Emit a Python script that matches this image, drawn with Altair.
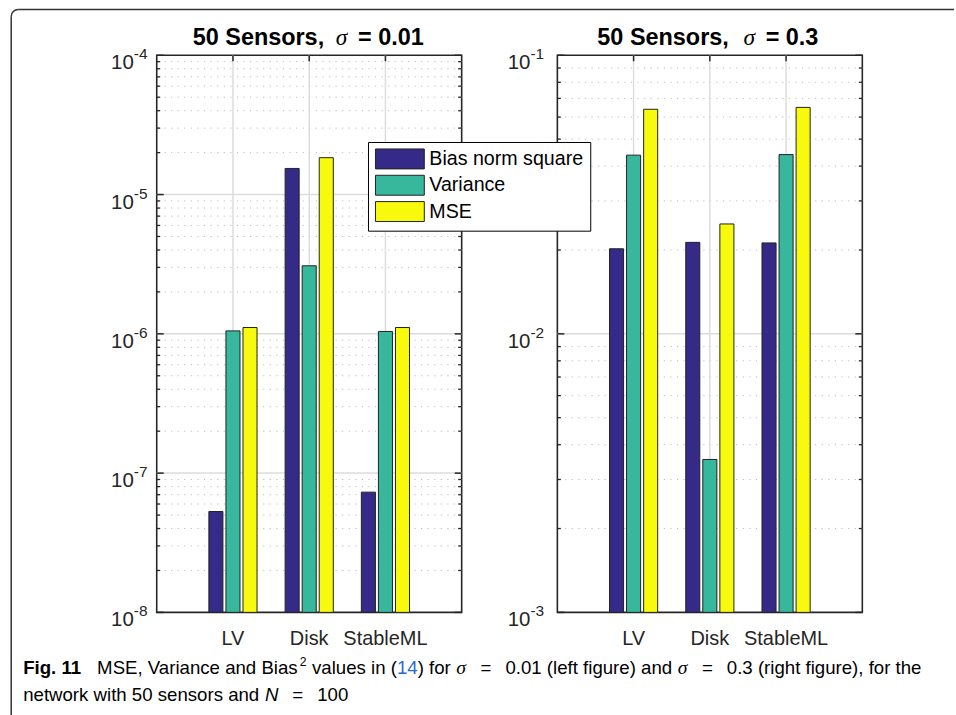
import math
import altair as alt
import pandas as pd

# ---- data -------------------------------------------------------------
categories = ["LV", "Disk", "StableML"]
series = ["Bias norm square", "Variance", "MSE"]
colors = ["#352a87", "#37b89d", "#f8fa0d"]

# sigma = 0.01
left_bias = [5.3e-8, 1.54e-5, 7.3e-8]
left_variance = [1.05e-6, 3.08e-6, 1.04e-6]
left_mse = [1.11e-6, 1.84e-5, 1.11e-6]

# sigma = 0.3
right_bias = [0.0202, 0.0213, 0.0212]
right_variance = [0.0438, 0.00354, 0.0440]
right_mse = [0.0640, 0.0248, 0.0650]

left_exponents = [-8, -7, -6, -5, -4]
right_exponents = [-3, -2, -1]

# ---- layout -----------------------------------------------------------
W, H = 306, 559
OX, OY = 156, 53          # where the left plot area starts on the page
AXIS = "#262626"
FONT = "Liberation Sans"
SERIF = "Liberation Serif"

# Arial / Liberation Sans advance widths (per 1000 em) for caption layout
ADV = {" ": 278, "(": 333, ")": 333, ",": 278, ".": 278, "=": 584, "-": 333}
ADV.update({d: 556 for d in "0123456789"})
ADV.update(dict(zip("ABCDEFGHIJKLMNOPQRSTUVWXYZ",
                    [667, 667, 722, 722, 667, 611, 778, 722, 278, 500, 667, 556, 833,
                     722, 778, 667, 778, 722, 667, 611, 722, 667, 944, 667, 667, 611])))
ADV.update(dict(zip("abcdefghijklmnopqrstuvwxyz",
                    [556, 556, 500, 556, 556, 278, 556, 556, 222, 222, 500, 222, 833,
                     556, 556, 556, 556, 333, 500, 278, 556, 500, 722, 500, 500, 500])))
ADV_BOLD = dict(ADV)
ADV_BOLD.update({"F": 611, "i": 278, "g": 611})


def text_width(s, size, bold=False):
    table = ADV_BOLD if bold else ADV
    return sum(table.get(ch, 550) for ch in s) * size / 1000.0


def long_table(bias, variance, mse):
    rows = []
    for s, vals in zip(series, [bias, variance, mse]):
        for c, v in zip(categories, vals):
            rows.append({"cat": c, "series": s, "value": v})
    return pd.DataFrame(rows)


def text_layer(s, x, y, size, weight="normal", style="normal", font=FONT,
               color="black", align="left"):
    return alt.Chart(pd.DataFrame({"t": [s]})).mark_text(
        align=align, baseline="alphabetic", fontSize=size, fontWeight=weight,
        fontStyle=style, font=font, color=color
    ).encode(x=alt.value(x), y=alt.value(y), text="t:N")


def panel(bias, variance, mse, exps, title_parts, label_x, legend):
    lo, hi = 10.0 ** exps[0], 10.0 ** exps[-1]
    yscale = alt.Scale(type="log", domain=[lo, hi], nice=False)
    xscale = alt.Scale(type="band", domain=categories, paddingInner=0, paddingOuter=0.5)

    minor = pd.DataFrame({"v": [m * 10.0 ** e for e in exps[:-1] for m in range(2, 10)]})
    major = pd.DataFrame({"v": [10.0 ** e for e in exps]})
    inner_major = pd.DataFrame({"v": [10.0 ** e for e in exps[1:-1]]})
    cats = pd.DataFrame({"cat": categories})
    labels = pd.DataFrame({"v": [10.0 ** e for e in exps],
                           "base": ["10"] * len(exps),
                           "exp": [str(e) for e in exps]})

    yq = alt.Y("v:Q", scale=yscale, axis=None)
    xc = alt.X("cat:N", scale=xscale, axis=None, bandPosition=0.5, sort=categories)

    minor_grid = alt.Chart(minor).mark_rule(
        color="#bdbdbd", strokeWidth=1, strokeDash=[1.2, 5.4]
    ).encode(y=yq)
    major_grid = alt.Chart(inner_major).mark_rule(
        color="#dcdcdc", strokeWidth=1.5
    ).encode(y=yq)
    x_grid = alt.Chart(cats).mark_rule(color="#dcdcdc", strokeWidth=1.5).encode(x=xc)

    tick_l_minor = alt.Chart(minor).mark_rule(color=AXIS, strokeWidth=1.3).encode(
        y=yq, x=alt.value(0), x2=alt.value(3.5))
    tick_r_minor = alt.Chart(minor).mark_rule(color=AXIS, strokeWidth=1.3).encode(
        y=yq, x=alt.value(W - 3.5), x2=alt.value(W))
    tick_l_major = alt.Chart(major).mark_rule(color=AXIS, strokeWidth=1.5).encode(
        y=yq, x=alt.value(0), x2=alt.value(7))
    tick_r_major = alt.Chart(major).mark_rule(color=AXIS, strokeWidth=1.5).encode(
        y=yq, x=alt.value(W - 7), x2=alt.value(W))
    tick_top = alt.Chart(cats).mark_rule(color=AXIS, strokeWidth=1.5).encode(
        x=xc, y=alt.value(0), y2=alt.value(6))
    tick_bottom = alt.Chart(cats).mark_rule(color=AXIS, strokeWidth=1.5).encode(
        x=xc, y=alt.value(H - 6), y2=alt.value(H))

    color = alt.Color(
        "series:N",
        scale=alt.Scale(domain=series, range=colors),
        sort=series,
        legend=alt.Legend(
            title=None, orient="none", legendX=212, legendY=87,
            direction="vertical",
            symbolType="M-2.45,-1H2.45V1H-2.45Z", symbolSize=400,
            symbolOffset=15,
            symbolStrokeColor="#222222", symbolStrokeWidth=1,
            labelFont=FONT, labelFontSize=19.7, labelColor="black",
            labelOffset=19, labelLimit=300,
            rowPadding=1.4, padding=6.5,
            strokeColor="black", fillColor="white",
        ) if legend else None,
    )

    bars = alt.Chart(long_table(bias, variance, mse)).mark_bar(
        stroke="#222222", strokeWidth=1
    ).encode(
        x=alt.X("cat:N", scale=xscale, sort=categories, axis=None),
        xOffset=alt.XOffset("series:N", sort=series,
                            scale=alt.Scale(paddingInner=0.176, paddingOuter=0.823)),
        y=alt.Y("value:Q", scale=yscale, axis=None, stack=None),
        y2=alt.datum(lo),
        color=color,
    )

    cat_lbl = alt.Chart(cats).mark_text(
        align="center", baseline="alphabetic", fontSize=20, font=FONT, color=AXIS
    ).encode(x=xc, y=alt.value(H + 33), text="cat:N")

    base_lbl = alt.Chart(labels).mark_text(
        align="right", baseline="alphabetic", fontSize=20.5, font=FONT, color=AXIS, dy=14
    ).encode(y=yq, x=alt.value(label_x), text="base:N")
    exp_lbl = alt.Chart(labels).mark_text(
        align="left", baseline="alphabetic", fontSize=15.5, font=FONT, color=AXIS, dy=4
    ).encode(y=yq, x=alt.value(label_x), text="exp:N")

    (t1, x1), (t2, x2), (t3, x3) = title_parts
    titles = [
        text_layer(t1, x1, -10, 23.5, weight="bold", align="right"),
        text_layer(t2, x2, -10, 23.5, style="italic", font=SERIF, align="center"),
        text_layer(t3, x3, -10, 23.5, weight="bold", align="left"),
    ]

    layers = [minor_grid, major_grid, x_grid, tick_l_minor, tick_r_minor,
              tick_l_major, tick_r_major, tick_top, tick_bottom, bars,
              cat_lbl, base_lbl, exp_lbl] + titles
    return layers


left_layers = panel(left_bias, left_variance, left_mse, left_exponents,
                    [("50 Sensors,", 168), ("σ", 185.5), ("= 0.01", 202)], -23, True)
right_layers = panel(right_bias, right_variance, right_mse, right_exponents,
                     [("50 Sensors,", 172), ("σ", 192.5), ("= 0.3", 209)], -27, False)


# ---- page frame and caption (placed relative to the left plot area) ---
def ax(x):
    return x - OX


def ay(y):
    return y - OY


frame_v = alt.Chart(pd.DataFrame({"k": [0]})).mark_rule(color="#333333", strokeWidth=1.5).encode(
    x=alt.value(ax(10)), y=alt.value(ay(14)), y2=alt.value(ay(715)))
frame_h = alt.Chart(pd.DataFrame({"k": [0]})).mark_rule(color="#333333", strokeWidth=1.5).encode(
    y=alt.value(ay(7)), x=alt.value(ax(17)), x2=alt.value(ax(956)))
frame_c = alt.Chart(pd.DataFrame({"k": [0]})).mark_arc(
    radius=7.75, radius2=6.25, theta=1.5 * math.pi, theta2=2 * math.pi, color="#333333"
).encode(x=alt.value(ax(17)), y=alt.value(ay(14)))

CS = 18.7
LINK = "#2a6ad0"


def caption_line(parts, x0, y):
    """parts: (text, kind, gap_before_in_em). Lays the pieces out left to right."""
    layers, x = [], x0
    for text, kind, gap in parts:
        x += gap * CS
        if kind == "bold":
            layers.append(text_layer(text, ax(x), y, CS, weight="bold"))
            x += text_width(text, CS, bold=True)
        elif kind == "sup":
            layers.append(text_layer(text, ax(x), y - 0.42 * CS, 0.65 * CS))
            x += text_width(text, 0.65 * CS)
        elif kind == "sym":
            layers.append(text_layer(text, ax(x), y, CS + 1, style="italic", font=SERIF))
            x += 0.52 * (CS + 1)
        elif kind == "ital":
            layers.append(text_layer(text, ax(x), y, CS, style="italic"))
            x += text_width(text, CS)
        elif kind == "link":
            layers.append(text_layer(text, ax(x), y, CS, color=LINK))
            x += text_width(text, CS)
        else:
            layers.append(text_layer(text, ax(x), y, CS))
            x += text_width(text, CS)
    return layers


line1 = [
    ("Fig. 11", "bold", 0), ("MSE, Variance and Bias", "plain", 0.8), ("2", "sup", 0.03),
    ("values in (", "plain", 0.3), ("14", "link", 0), (") for", "plain", 0),
    ("σ", "sym", 0.3), ("=", "plain", 0.75), ("0.01 (left figure) and", "plain", 0.75),
    ("σ", "sym", 0.3), ("=", "plain", 0.75), ("0.3 (right figure), for the", "plain", 0.75),
]
line2 = [
    ("network with 50 sensors and", "plain", 0), ("N", "ital", 0.3),
    ("=", "plain", 0.75), ("100", "plain", 0.75),
]
caption = caption_line(line1, 22, ay(674)) + caption_line(line2, 22, ay(701))

left = alt.layer(*(left_layers + [frame_v, frame_h, frame_c] + caption)).properties(width=W, height=H)
right = alt.layer(*right_layers).properties(width=W, height=H)

chart = alt.hconcat(left, right, spacing=96, bounds="flush").properties(
    padding={"left": 9.25, "top": 6.25, "right": 0, "bottom": 0}
).configure(font=FONT).configure_view(stroke=AXIS, strokeWidth=1.6)

chart.save("out.html", embed_options={"renderer": "svg", "actions": False})
